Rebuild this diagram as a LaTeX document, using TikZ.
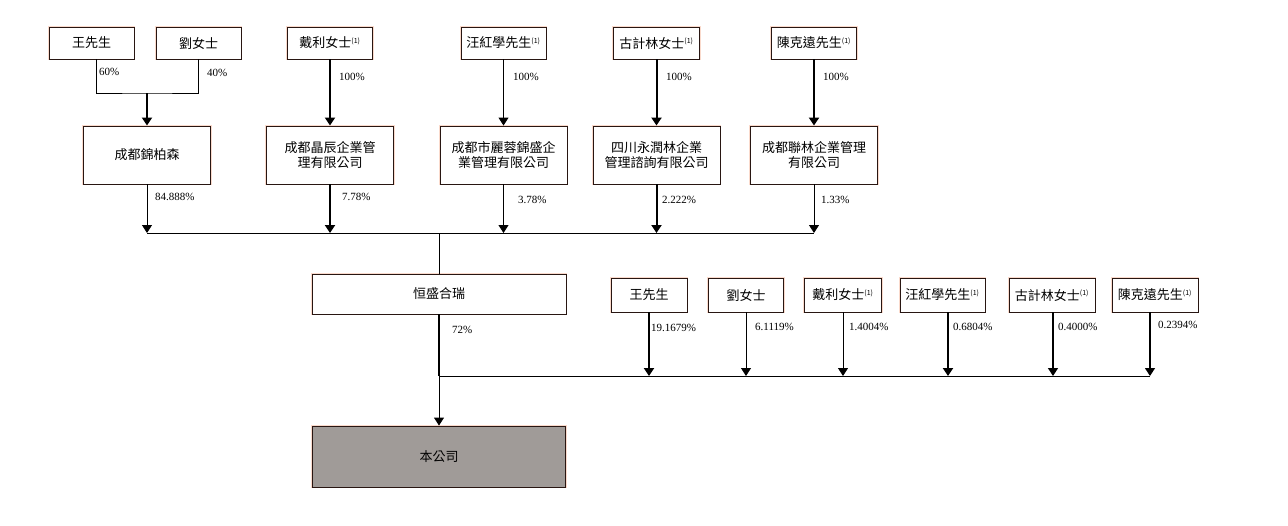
\documentclass[tikz,border=0pt]{standalone}
\usepackage{fontspec}
\setmainfont{Liberation Serif}
\newfontfamily\cjk{Noto Sans CJK TC}
\usepackage{tikz}
\usetikzlibrary{arrows.meta, positioning}

\definecolor{boxline}{RGB}{40,22,18}
\definecolor{boxglow}{RGB}{250,218,204}
\definecolor{cogray}{RGB}{160,155,152}
\newcommand{\noteone}{\textsuperscript{\fontsize{7}{7}\selectfont(1)}}

\begin{document}
\begin{tikzpicture}[x=1pt, y=-1pt,
    holder/.style={draw=boxline, line width=0.9pt, preaction={draw=boxglow, line width=2.4pt},
        fill=white, font=\cjk\fontsize{13}{15}\selectfont, align=center, inner sep=0pt},
    person/.style={holder, minimum width=85pt, minimum height=32pt},
    firm/.style={holder, minimum width=127pt, minimum height=58pt},
    pct/.style={anchor=west, inner sep=0pt, font=\fontsize{11}{13}\selectfont},
    owns/.style={-{Triangle[width=10pt,length=8pt]}, line width=2pt},
    ownsthin/.style={-{Triangle[width=10pt,length=8pt]}, line width=0.9pt}
]
\useasboundingbox (0,0) rectangle (1288,525);

% Top row - ultimate holders
\node[person] (own1) at (91.5,43) {王先生};
\node[person] (own2) at (198.5,43) {劉女士};
\node[person] (own3) at (330,43) {戴利女士\noteone};
\node[person] (own4) at (503.5,43) {汪紅學先生\noteone};
\node[person, minimum width=86pt] (own5) at (656.5,43) {古計林女士\noteone};
\node[person] (own6) at (814,43) {陳克遠先生\noteone};

% Second row - holding vehicles
\node[firm] (firm1) at (147,155) {成都錦柏森};
\node[firm] (firm2) at (330,155) {成都晶辰企業管\\理有限公司};
\node[firm] (firm3) at (503.5,155) {成都市麗蓉錦盛企\\業管理有限公司};
\node[firm] (firm4) at (656.5,155) {四川永潤林企業\\管理諮詢有限公司};
\node[firm] (firm5) at (814,155) {成都聯林企業管理\\有限公司};

% Hengsheng Herui and the company
\node[holder, minimum width=254pt, minimum height=40pt] (hold) at (439,294) {恒盛合瑞};
\node[holder, fill=cogray, minimum width=253pt, minimum height=61pt] (comp) at (439,456.5) {本公司};

% Third row - direct holders
\node[person, minimum width=76pt, minimum height=34pt] (ind1) at (649,295) {王先生};
\node[person, minimum width=75pt, minimum height=34pt] (ind2) at (746,295) {劉女士};
\node[person, minimum width=77pt, minimum height=34pt] (ind3) at (843,295) {戴利女士\noteone};
\node[person, minimum height=34pt] (ind4) at (942.5,295) {汪紅學先生\noteone};
\node[person, minimum width=86pt, minimum height=34pt] (ind5) at (1052,295) {古計林女士\noteone};
\node[person, minimum width=86pt, minimum height=34pt] (ind6) at (1155,295) {陳克遠先生\noteone};

% Bus lines
\coordinate (jn0) at (147,93);
\coordinate (bus1w) at (147,233);
\coordinate (bus1e) at (814,233);
\coordinate (bus2e) at (1150,376);

% Top row to vehicles
\draw[line width=0.9pt] ([xshift=5pt]own1.south) |- (jn0) -| (own2.south);
\draw[owns] (jn0) -- (firm1.north);
\draw[owns] (own3) -- (firm2);
\draw[ownsthin] (own4) -- (firm3);
\draw[owns] (own5) -- (firm4);
\draw[owns] (own6) -- (firm5);

% Vehicles to Hengsheng Herui
\draw[line width=0.9pt] (bus1w) -- (bus1e);
\draw[ownsthin] (firm1) -- (bus1w);
\draw[owns] (firm2) -- (firm2 |- bus1w);
\draw[ownsthin] (firm3) -- (firm3 |- bus1w);
\draw[owns] (firm4) -- (firm4 |- bus1w);
\draw[ownsthin] (firm5) -- (bus1e);
\draw[line width=0.9pt] (hold.north |- bus1w) -- (hold.north);

% Direct holders to the company
\draw[line width=0.9pt] (hold.south |- bus2e) -- (bus2e);
\draw[owns] (ind1) -- (ind1 |- bus2e);
\draw[ownsthin] (ind2) -- (ind2 |- bus2e);
\draw[ownsthin] (ind3) -- (ind3 |- bus2e);
\draw[owns] ([xshift=5.5pt]ind4.south) -- ([xshift=5.5pt]ind4.south |- bus2e);
\draw[ownsthin, line width=1.3pt] ([xshift=1pt]ind5.south) -- ([xshift=1pt]ind5.south |- bus2e);
\draw[ownsthin, line width=1.3pt] ([xshift=-5pt]ind6.south) -- (bus2e);
\draw[line width=2pt] (hold.south) -- (hold.south |- bus2e);
\draw[ownsthin] (hold.south |- bus2e) -- (comp.north);

% Percentages
\node[pct] (s1) at (99,72) {60\%};
\node[pct] (s2) at (207,73) {40\%};
\node[pct] (s3) at (339,77) {100\%};
\node[pct] (s4) at (513,77) {100\%};
\node[pct] (s5) at (666,77) {100\%};
\node[pct] (s6) at (823,77) {100\%};
\node[pct] (t1) at (155,197) {84.888\%};
\node[pct] (t2) at (342,197) {7.78\%};
\node[pct] (t3) at (518,200) {3.78\%};
\node[pct] (t4) at (662,200) {2.222\%};
\node[pct] (t5) at (821,200) {1.33\%};
\node[pct] (u0) at (452,330) {72\%};
\node[pct] (u1) at (651,328) {19.1679\%};
\node[pct] (u2) at (755,327) {6.1119\%};
\node[pct] (u3) at (849,327) {1.4004\%};
\node[pct] (u4) at (953,327) {0.6804\%};
\node[pct] (u5) at (1058,327) {0.4000\%};
\node[pct] (u6) at (1158,325) {0.2394\%};
\end{tikzpicture}
\end{document}
